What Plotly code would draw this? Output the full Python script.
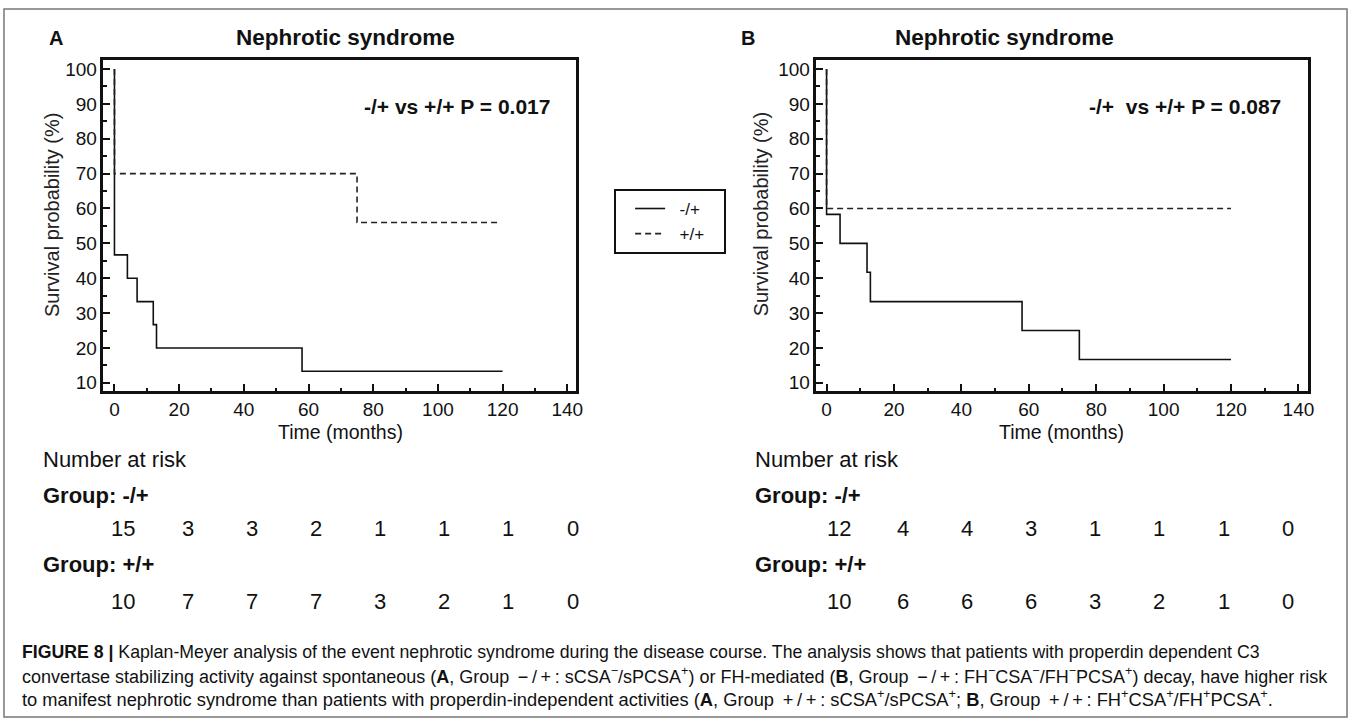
import plotly.graph_objects as go

# ---------------- data ----------------
# Panel A (Group -/+ : 15 patients, Group +/+ : 10 patients)
time_a_neg = [0, 0, 4, 7, 12, 13, 58, 120]
surv_a_neg = [100, 46.7, 40.0, 33.3, 26.7, 20.0, 13.3, 13.3]
time_a_pos = [0, 0, 75, 119]
surv_a_pos = [100, 70.0, 56.0, 56.0]
# Panel B (Group -/+ : 12 patients, Group +/+ : 10 patients)
time_b_neg = [0, 0, 4, 12, 13, 58, 75, 120]
surv_b_neg = [100, 58.3, 50.0, 41.7, 33.3, 25.0, 16.7, 16.7]
time_b_pos = [0, 0, 120]
surv_b_pos = [100, 60.0, 60.0]

risk_times = [0, 20, 40, 60, 80, 100, 120, 140]
risk_a_neg = [15, 3, 3, 2, 1, 1, 1, 0]
risk_a_pos = [10, 7, 7, 7, 3, 2, 1, 0]
risk_b_neg = [12, 4, 4, 3, 1, 1, 1, 0]
risk_b_pos = [10, 6, 6, 6, 3, 2, 1, 0]

x_ticks = [0, 20, 40, 60, 80, 100, 120, 140]
y_ticks = [10, 20, 30, 40, 50, 60, 70, 80, 90, 100]

group_names = ["-/+", "+/+"]
p_text_a = "-/+ vs +/+ P = 0.017"
p_text_b = "-/+\u00a0\u00a0vs +/+ P = 0.087"

# ---------------- layout helpers ----------------
W, H = 1357, 722
FONT = "Liberation Sans, Arial, sans-serif"


def px(x):
    return x / W


def py(y):
    return 1 - y / H


def legend_name(s):
    return "\u00a0\u00a0" + s + "\u00a0\u00a0\u00a0"


fig = go.Figure()

line_solid = dict(color="#111111", width=1.6, shape="hv")
line_dash = dict(color="#222222", width=1.6, shape="hv", dash="6px,4px")

fig.add_trace(go.Scatter(x=time_a_neg, y=surv_a_neg, mode="lines", line=line_solid,
                         name=legend_name(group_names[0]), xaxis="x", yaxis="y", showlegend=True))
fig.add_trace(go.Scatter(x=time_a_pos, y=surv_a_pos, mode="lines", line=line_dash,
                         name=legend_name(group_names[1]), xaxis="x", yaxis="y", showlegend=True))
fig.add_trace(go.Scatter(x=time_b_neg, y=surv_b_neg, mode="lines", line=line_solid,
                         name=group_names[0], xaxis="x2", yaxis="y2", showlegend=False))
fig.add_trace(go.Scatter(x=time_b_pos, y=surv_b_pos, mode="lines", line=line_dash,
                         name=group_names[1], xaxis="x2", yaxis="y2", showlegend=False))

tickfont = dict(family=FONT, size=19, color="#111111")


def xaxis(domain, rng, anchor):
    return dict(domain=domain, range=rng, anchor=anchor, tickmode="array",
                tickvals=x_ticks, ticks="inside", ticklen=7, tickwidth=1.8,
                tickcolor="#111111", showline=True, linewidth=2.5, linecolor="#111111",
                mirror=True, showgrid=False, zeroline=False, tickfont=tickfont,
                minor=dict(ticks="inside", ticklen=3, tickwidth=1.5, dtick=10,
                           tick0=0, tickcolor="#111111", showgrid=False))


def yaxis(domain, rng, anchor):
    return dict(domain=domain, range=rng, anchor=anchor, tickmode="array",
                tickvals=y_ticks, ticks="inside", ticklen=7, tickwidth=1.8,
                tickcolor="#111111", showline=True, linewidth=2.5, linecolor="#111111",
                mirror=True, showgrid=False, zeroline=False, tickfont=tickfont,
                minor=dict(ticks="inside", ticklen=4, tickwidth=1.5, dtick=5,
                           tick0=0, tickcolor="#111111", showgrid=False))


ydom = [py(392), py(59.3)]
fig.update_layout(
    width=W, height=H, autosize=False,
    margin=dict(l=0, r=0, t=0, b=0),
    paper_bgcolor="white", plot_bgcolor="white",
    font=dict(family=FONT, color="#111111"),
    xaxis=xaxis([px(104), px(579)], [-3.4, 142.7], "y"),
    yaxis=yaxis(ydom, [7.7, 102.6], "x"),
    xaxis2=xaxis([px(820.7), px(1314.3)], [-3.0, 142.7], "y2"),
    yaxis2=yaxis(ydom, [7.7, 102.6], "x2"),
    legend=dict(x=px(617.3), y=py(189), xanchor="left", yanchor="top",
                bordercolor="#111111", borderwidth=2, bgcolor="white",
                font=dict(family=FONT, size=17, color="#111111"),
                indentation=14, itemwidth=30, tracegroupgap=0),
)

ann = []


def text(x, y, s, size, bold=False, xanchor="center", color="#111111", angle=0):
    if bold:
        s = "<b>" + s + "</b>"
    ann.append(dict(x=px(x), y=py(y), xref="paper", yref="paper", text=s,
                    showarrow=False, xanchor=xanchor, yanchor="middle",
                    textangle=angle, font=dict(family=FONT, size=size, color=color)))


# panel letters and titles
text(56, 37, "A", 20, bold=True)
text(752, 37, "B", 20, bold=True)
text(347, 37, "Nephrotic syndrome", 22.5, bold=True)
text(1010, 37, "Nephrotic syndrome", 22.5, bold=True)
# p-values
text(555, 106, p_text_a, 21, bold=True, xanchor="right")
text(1290, 106, p_text_b, 21, bold=True, xanchor="right")
# axis titles
for cx in (53, 765):
    text(cx, 214.5, "Survival probability (%)", 20, angle=-90, color="#222222")
text(342.6, 433, "Time (months)", 19.5)
text(1067.5, 433, "Time (months)", 19.5)

# number at risk tables
for left, first, negs, poss in ((41.5, 124, risk_a_neg, risk_a_pos),
                                (757, 843, risk_b_neg, risk_b_pos)):
    text(left, 461, "Number at risk", 22, xanchor="left")
    text(left, 497, "Group: " + group_names[0], 22, bold=True, xanchor="left")
    text(left, 567, "Group: " + group_names[1], 22, bold=True, xanchor="left")
    for i, (n1, n2) in enumerate(zip(negs, poss)):
        text(first + 64.5 * i, 530, str(n1), 22)
        text(first + 64.5 * i, 604, str(n2), 22)

# caption
TS = "\u2009"
neg_grp = TS + "\u2212" + TS + "/" + TS + "+" + TS
pos_grp = TS + "+" + TS + "/" + TS + "+" + TS
cap1 = ("<b>FIGURE 8 |</b> Kaplan-Meyer analysis of the event nephrotic syndrome during the disease "
        "course. The analysis shows that patients with properdin dependent C3")
cap2 = ("convertase stabilizing activity against spontaneous (<b>A</b>, Group " + neg_grp + ": "
        "sCSA<sup>\u2212</sup>/sPCSA<sup>+</sup>) or FH-mediated (<b>B</b>, Group " + neg_grp + ": "
        "FH<sup>\u2212</sup>CSA<sup>\u2212</sup>/FH<sup>\u2212</sup>PCSA<sup>+</sup>) decay, have higher risk")
cap3 = ("to manifest nephrotic syndrome than patients with properdin-independent activities "
        "(<b>A</b>, Group " + pos_grp + ": sCSA<sup>+</sup>/sPCSA<sup>+</sup>; <b>B</b>, Group " + pos_grp + ": "
        "FH<sup>+</sup>CSA<sup>+</sup>/FH<sup>+</sup>PCSA<sup>+</sup>.")
for yy, s, fs in ((655, cap1, 17.7), (678, cap2, 18.0), (701, cap3, 18.3)):
    text(20, yy, s, fs, xanchor="left")

fig.update_layout(annotations=ann)

# outer frame
fig.add_shape(type="rect", xref="paper", yref="paper",
              x0=px(4), x1=px(1354), y0=py(720), y1=py(8),
              line=dict(color="#777777", width=1.5), fillcolor="rgba(0,0,0,0)", layer="below")

fig.write_html("out.html")
